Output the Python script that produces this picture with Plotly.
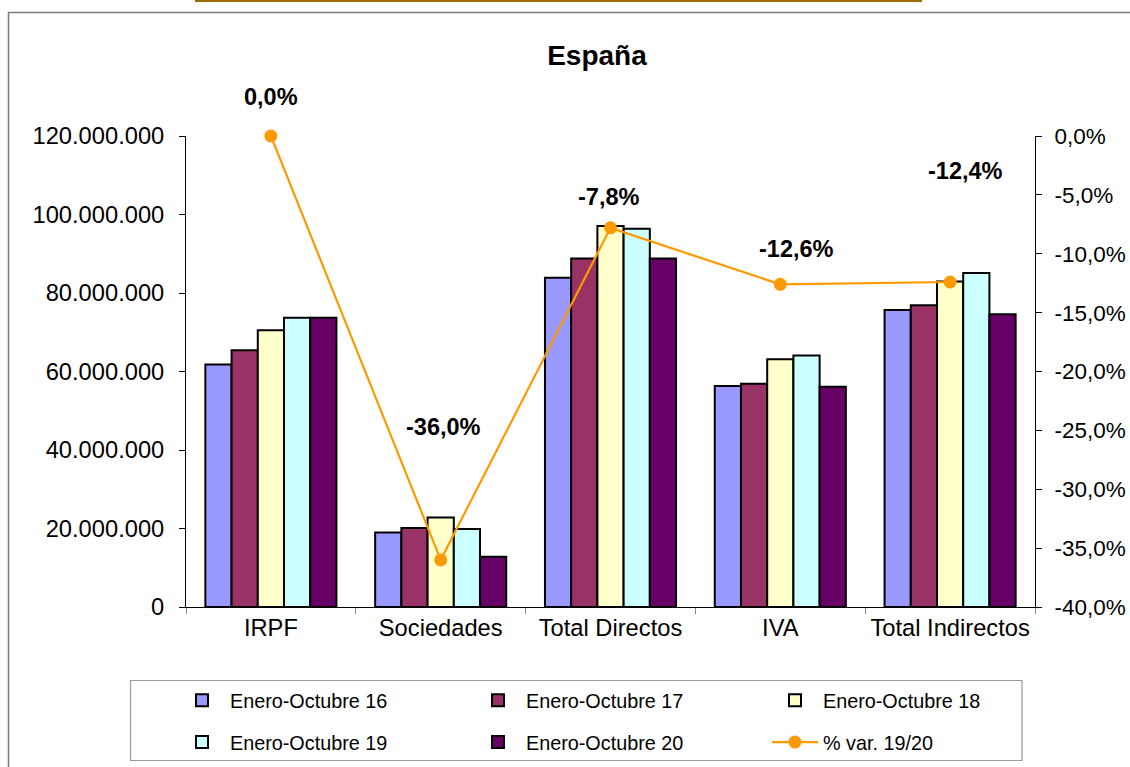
import plotly.graph_objects as go

# ---------------- data ----------------
categories = ["IRPF", "Sociedades", "Total Directos", "IVA", "Total Indirectos"]
series_names = ["Enero-Octubre 16", "Enero-Octubre 17", "Enero-Octubre 18",
                "Enero-Octubre 19", "Enero-Octubre 20"]
ene_oct_16 = [61.8e6, 19.0e6, 83.9e6, 56.3e6, 75.7e6]
ene_oct_17 = [65.4e6, 20.1e6, 88.8e6, 56.9e6, 76.9e6]
ene_oct_18 = [70.5e6, 22.8e6, 97.1e6, 63.1e6, 82.9e6]
ene_oct_19 = [73.7e6, 19.9e6, 96.4e6, 64.1e6, 85.1e6]
ene_oct_20 = [73.7e6, 12.8e6, 88.8e6, 56.1e6, 74.6e6]
var_name = "% var. 19/20"
var_pct = [0.0, -36.0, -7.8, -12.6, -12.4]

left_ticks = [0, 20e6, 40e6, 60e6, 80e6, 100e6, 120e6]
right_ticks = [-40, -35, -30, -25, -20, -15, -10, -5, 0]

# ---------------- styling ----------------
W, H = 1130, 767
ML, MR, MT, MB = 186, 95, 136, 160
PW, PH = W - ML - MR, H - MT - MB
FONT = "Liberation Sans, Arial, sans-serif"

bar_colors = ["#9999FF", "#993366", "#FFFFCC", "#CCFFFF", "#660066"]
line_color = "#FF9900"


def px_x(p):
    return (p - ML) / PW


def px_y(p):
    return (H - MB - p) / PH


def fmt_int(v):
    return f"{int(round(v)):,}".replace(",", ".")


def fmt_pct(v):
    return f"{v:.1f}%".replace(".", ",")


series_values = [ene_oct_16, ene_oct_17, ene_oct_18, ene_oct_19, ene_oct_20]
legend_of = ["legend", "legend2", "legend3", "legend", "legend2"]

fig = go.Figure()
for i, (name, vals) in enumerate(zip(series_names, series_values)):
    fig.add_trace(go.Bar(
        x=categories, y=vals, name=name,
        marker=dict(color=bar_colors[i], line=dict(color="#000000", width=2)),
        legend=legend_of[i], legendgroup=f"g{i}",
        hoverinfo="skip",
    ))

fig.add_trace(go.Scatter(
    x=categories, y=var_pct, name=var_name, yaxis="y2",
    mode="lines+markers",
    line=dict(color=line_color, width=2.2),
    marker=dict(color=line_color, size=13),
    legend="legend3", legendgroup="g5",
    hoverinfo="skip", cliponaxis=False,
))

# data labels for the line
label_offsets = [(0, 39), (3, 133), (-2, 31), (16, 35), (15, 111)]
annotations = []
for cat, v, (dx, dy) in zip(categories, var_pct, label_offsets):
    annotations.append(dict(
        x=cat, y=v, xref="x", yref="y2", text=f"<b>{fmt_pct(v)}</b>",
        showarrow=False, xshift=dx, yshift=dy,
        font=dict(family=FONT, size=23.5, color="#000000"),
    ))

legend_common = dict(
    orientation="v", xref="container", yref="container",
    xanchor="left", yanchor="top",
    font=dict(family=FONT, size=19.8, color="#000000"),
    bgcolor="rgba(0,0,0,0)", borderwidth=0,
    itemwidth=46, tracegroupgap=13, traceorder="grouped",
    itemclick=False, itemdoubleclick=False,
)
leg_top = 681
legends = {}
for key, left in zip(["legend", "legend2", "legend3"], [174, 470, 767]):
    d = dict(legend_common)
    d.update(x=left / W, y=1 - leg_top / H)
    legends[key] = d

shapes = [
    # outer chart border
    dict(type="rect", xref="paper", yref="paper",
         x0=px_x(8.5), x1=px_x(1140), y0=px_y(780), y1=px_y(12.5),
         line=dict(color="#7a7a7a", width=1.5), layer="below"),
    # legend box
    dict(type="rect", xref="paper", yref="paper",
         x0=px_x(130.5), x1=px_x(1022), y0=px_y(760.5), y1=px_y(680.5),
         line=dict(color="#9a9a9a", width=1.2), layer="below"),
    # bottom edge of box above the chart
    dict(type="line", xref="paper", yref="paper",
         x0=px_x(195), x1=px_x(922), y0=px_y(0.5), y1=px_y(0.5),
         line=dict(color="#9C6B00", width=3)),
]

TICKFONT = dict(family=FONT, size=23.7, color="#000000")
TICKFONT_R = dict(family=FONT, size=22.5, color="#000000")

fig.update_layout(
    width=W, height=H,
    margin=dict(l=ML, r=MR, t=MT, b=MB, autoexpand=False),
    paper_bgcolor="#FFFFFF", plot_bgcolor="#FFFFFF",
    font=dict(family=FONT, size=23, color="#000000"),
    barmode="group", bargap=0.228, bargroupgap=0,
    title=dict(text="<b>España</b>", xref="container", yref="container",
               x=597 / W, y=1 - 55 / H, xanchor="center", yanchor="middle",
               font=dict(family=FONT, size=28, color="#000000")),
    xaxis=dict(
        showline=True, linecolor="#000000", linewidth=1,
        ticks="outside", tickson="boundaries", ticklen=6, tickcolor="#888888",
        tickfont=TICKFONT,
        showgrid=False, zeroline=False,
    ),
    yaxis=dict(
        range=[0, 120e6], tickvals=left_ticks,
        ticktext=[fmt_int(v) for v in left_ticks],
        showline=True, linecolor="#000000", linewidth=1,
        ticks="outside", ticklen=6, tickcolor="#000000",
        tickfont=TICKFONT,
        showgrid=False, zeroline=False, ticklabelstandoff=10,
    ),
    yaxis2=dict(
        range=[-40, 0], overlaying="y", side="right",
        tickvals=right_ticks, ticktext=[fmt_pct(v) for v in right_ticks],
        showline=True, linecolor="#000000", linewidth=1,
        ticks="outside", ticklen=6, tickcolor="#000000",
        tickfont=TICKFONT_R,
        showgrid=False, zeroline=False, ticklabelstandoff=8,
    ),
    annotations=annotations,
    shapes=shapes,
    **legends,
)

fig.write_html(
    "out.html",
    config={"displayModeBar": False},
    post_script="document.body.style.margin='0';document.body.style.padding='0';",
)
